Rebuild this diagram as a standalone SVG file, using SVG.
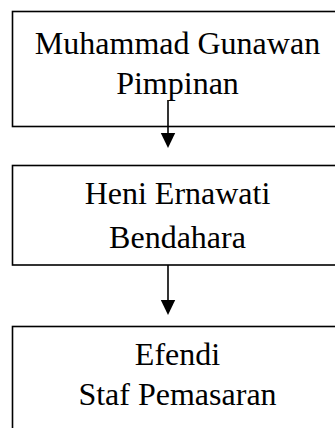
<svg xmlns="http://www.w3.org/2000/svg" width="335" height="428" viewBox="0 0 335 428">
<style>
.box{fill:#fff;stroke:#000;stroke-width:1.6}
.t{font-family:"Liberation Serif","Times New Roman",serif;font-size:32px;fill:#000;text-anchor:middle}
.ln{stroke:#000;stroke-width:1.6;fill:none}
.ah{fill:#000}
</style>
<rect width="335" height="428" fill="#fff"/>
<g id="node-pimpinan">
<rect class="box" x="12.5" y="11.5" width="340" height="115"/>
<text class="t" x="177.5" y="54">Muhammad Gunawan</text>
<text class="t" x="177.5" y="94">Pimpinan</text>
</g>
<g id="node-bendahara">
<rect class="box" x="12.5" y="165.5" width="340" height="99.5"/>
<text class="t" x="177.5" y="204">Heni Ernawati</text>
<text class="t" x="177.5" y="248">Bendahara</text>
</g>
<g id="node-staf">
<rect class="box" x="12.5" y="326.5" width="340" height="120"/>
<text class="t" x="177.5" y="365">Efendi</text>
<text class="t" x="177.5" y="405">Staf Pemasaran</text>
</g>
<g id="connectors">
<line class="ln" x1="168" y1="100" x2="168" y2="134"/>
<polygon class="ah" points="160.8,133 175.2,133 168,148"/>
<line class="ln" x1="168" y1="265" x2="168" y2="301"/>
<polygon class="ah" points="160.8,300 175.2,300 168,315"/>
</g>
</svg>
